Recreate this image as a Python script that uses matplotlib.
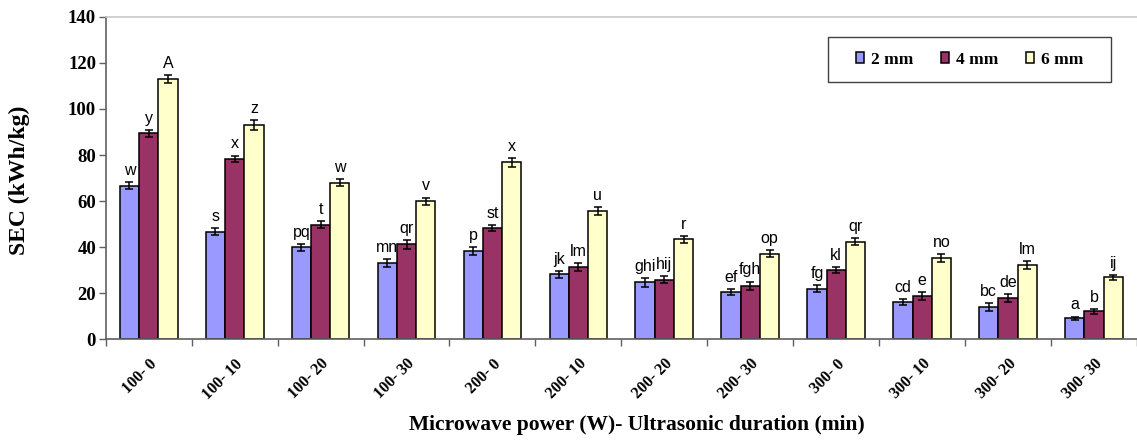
import numpy as np
import matplotlib
matplotlib.use("Agg")
import matplotlib.pyplot as plt
from matplotlib.patches import Rectangle
from matplotlib.ticker import FixedLocator

# Treatment combinations: microwave power (W) - ultrasonic duration (min)
treatments = ["100- 0", "100- 10", "100- 20", "100- 30",
              "200- 0", "200- 10", "200- 20", "200- 30",
              "300- 0", "300- 10", "300- 20", "300- 30"]

series_names = ["2 mm", "4 mm", "6 mm"]

sec_2mm = [66.7, 46.7, 39.9, 33.2, 38.3, 28.2, 24.7, 20.5, 22.0, 16.1, 14.0, 9.1]
sec_4mm = [89.4, 78.3, 49.7, 41.2, 48.4, 31.4, 25.9, 23.3, 30.1, 18.8, 18.1, 12.2]
sec_6mm = [113.0, 93.0, 68.0, 60.0, 76.8, 55.7, 43.4, 37.2, 42.4, 35.3, 32.1, 26.9]

err_2mm = [1.5, 1.5, 1.5, 1.6, 1.8, 1.5, 1.8, 1.2, 1.6, 1.3, 1.8, 0.8]
err_4mm = [1.6, 1.5, 1.5, 1.8, 1.3, 1.8, 1.6, 1.8, 1.3, 1.8, 1.7, 1.0]
err_6mm = [1.6, 2.0, 1.6, 1.5, 1.8, 1.8, 1.6, 1.6, 1.6, 1.8, 1.7, 1.1]

letters_2mm = ["w", "s", "pq", "mn", "p", "jk", "ghi", "ef", "fg", "cd", "bc", "a"]
letters_4mm = ["y", "x", "t", "qr", "st", "lm", "hij", "fgh", "kl", "e", "de", "b"]
letters_6mm = ["A", "z", "w", "v", "x", "u", "r", "op", "qr", "no", "lm", "ij"]

colors = ["#9999FF", "#993366", "#FFFFCC"]

serif = ["Liberation Serif", "DejaVu Serif"]
sans = ["Liberation Sans", "DejaVu Sans"]

fig = plt.figure(figsize=(11.37, 4.43), dpi=100)
ax = fig.add_axes([0.093, 0.234, 0.907, 0.728])

x = np.arange(len(treatments))
width = 0.224
values = [sec_2mm, sec_4mm, sec_6mm]
errors = [err_2mm, err_4mm, err_6mm]
letters = [letters_2mm, letters_4mm, letters_6mm]

for i in range(3):
    pos = x + (i - 1) * width
    ax.bar(pos, values[i], width=width, color=colors[i], edgecolor="black",
           linewidth=1.1, label=series_names[i], zorder=2)
    ax.errorbar(pos, values[i], yerr=errors[i], fmt="none", ecolor="black",
                elinewidth=1.1, capsize=3, capthick=1.1, zorder=3)
    for xp, v, e, t in zip(pos, values[i], errors[i], letters[i]):
        ax.annotate(t, (xp, v + e), xytext=(0, 3), textcoords="offset points",
                    ha="center", va="bottom", fontsize=11.5, family=sans)

ax.set_xlim(-0.5, len(treatments) - 0.5)
ax.set_ylim(0, 140)
ax.set_yticks(np.arange(0, 141, 20))

# category labels at group centres, tick marks at group boundaries
ax.set_xticks(x)
ax.set_xticklabels(treatments, rotation=45, ha="right", rotation_mode="anchor",
                   fontsize=11.5, fontweight="bold", family=serif)
ax.tick_params(axis="x", which="major", length=0, pad=12)
ax.xaxis.set_minor_locator(FixedLocator(np.arange(-0.5, len(treatments), 1.0)))
ax.tick_params(axis="x", which="minor", length=5, color="#606060", width=1)

ax.tick_params(axis="y", length=5, color="#606060", width=1, pad=2)
for lab in ax.get_yticklabels():
    lab.set_fontweight("bold")
    lab.set_family(serif)
    lab.set_fontsize(13.5)

for side in ["left", "bottom"]:
    ax.spines[side].set_color("#606060")
    ax.spines[side].set_linewidth(1.2)
ax.spines["top"].set_color("#C8C8C8")
ax.spines["top"].set_linewidth(1.2)
ax.spines["right"].set_visible(False)

ax.set_ylabel("SEC (kWh/kg)", fontsize=17, fontweight="bold", family=serif,
              va="center", ha="center")
ax.yaxis.set_label_coords(-0.084, 0.494)
ax.set_xlabel("Microwave power (W)- Ultrasonic duration (min)", fontsize=15.5,
              fontweight="bold", family=serif, va="center", ha="center")
ax.xaxis.set_label_coords(0.515, -0.266)

# legend box with compact, centred entries
ax.add_patch(Rectangle((0.700, 0.798), 0.2744, 0.1395, transform=ax.transAxes,
                       facecolor="white", edgecolor="#404040", linewidth=1.0,
                       zorder=4))
leg = ax.legend(loc="center", bbox_to_anchor=(0.8376, 0.8673), ncol=3,
                frameon=False, handlelength=0.45, handleheight=0.6,
                handletextpad=0.4, columnspacing=1.6, borderpad=0,
                prop={"family": serif, "weight": "bold", "size": 12.5})
leg.set_zorder(5)

fig.savefig("out.png", dpi=100)
